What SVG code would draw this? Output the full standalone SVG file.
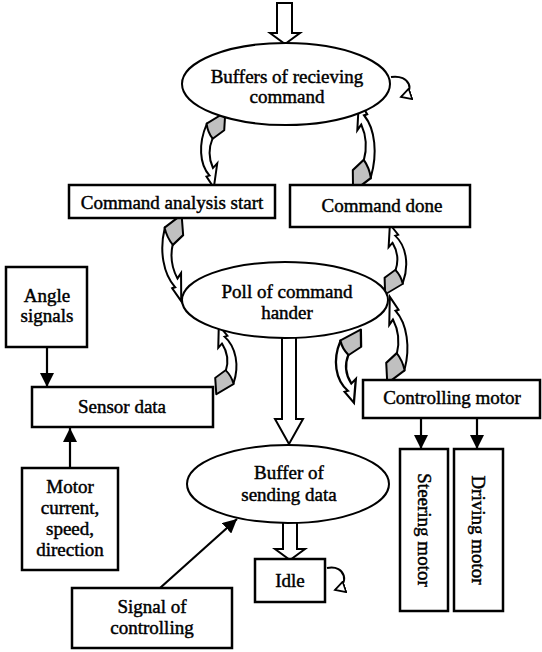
<svg xmlns="http://www.w3.org/2000/svg" width="542" height="652" viewBox="0 0 542 652">
  <style>
    .bg { fill: #ffffff; }
    .box { fill: #ffffff; stroke: #000000; stroke-width: 2.5; }
    .ell { fill: #ffffff; stroke: #000000; stroke-width: 2; }
    .t { font-family: "Liberation Serif", "Times New Roman", serif; font-size: 19px; fill: #000000; stroke: #000000; stroke-width: 0.45; text-anchor: middle; }
    .line { fill: none; stroke: #000000; stroke-width: 2.2; }
    .block { fill: #ffffff; stroke: #000000; stroke-width: 2; stroke-linejoin: miter; }
    .loop { fill: none; stroke: #000000; stroke-width: 2; }
    .rib-gray { fill: #c0c0c0; stroke: #000000; stroke-width: 2; stroke-linejoin: round; }
    .rib-band { fill: #ffffff; stroke: #000000; stroke-width: 2; stroke-linejoin: miter; }
  </style>
  <defs>
    <marker id="solid" markerUnits="userSpaceOnUse" markerWidth="15" markerHeight="14" refX="14" refY="7" orient="auto">
      <path d="M0,0 L14,7 L0,14 Z" fill="#000000"/>
    </marker>
    <marker id="open" markerUnits="userSpaceOnUse" markerWidth="13" markerHeight="13" refX="11" refY="6.5" orient="auto">
      <path d="M1,1 L11,6.5 L1,12 Z" fill="#ffffff" stroke="#000000" stroke-width="1.8"/>
    </marker>
    <g id="ribbon">
      <path class="rib-band" d="M -12,8 C -19,28 -17,50 -6,62 L -9,63 L -1,75 L 1,49 L -3,54 C -8,44 -9,34 -5,22 Z"/>
      <path class="rib-gray" d="M 6,-5 L 6,14 L -5,23 C -9,18 -11,13 -12,7 Z"/>
    </g>
  </defs>
  <rect class="bg" x="0" y="0" width="542" height="652"/>

  <g id="connectors">
    <!-- hollow block arrows -->
    <polygon class="block" points="277,3 292,3 292,33 300,33 285,44 270,33 277,33"/>
    <polygon class="block" points="282,337 296,337 296,419 303,419 289,444 275,419 282,419"/>
    <polygon class="block" points="283,522 297,522 297,549 305,549 290,560 275,549 283,549"/>
    <!-- straight arrows -->
    <line class="line" x1="47" y1="347" x2="47" y2="387" marker-end="url(#solid)"/>
    <line class="line" x1="70" y1="468" x2="70" y2="428" marker-end="url(#solid)"/>
    <line class="line" x1="421" y1="418" x2="421" y2="449" marker-end="url(#solid)"/>
    <line class="line" x1="477" y1="418" x2="477" y2="449" marker-end="url(#solid)"/>
    <line class="line" x1="160" y1="588" x2="237" y2="519" marker-end="url(#solid)"/>
    <!-- self loops -->
    <path class="loop" d="M 391,77 C 410,74 416,92 401,97" marker-end="url(#open)"/>
    <path class="loop" d="M 327,568 C 346,564 350,585 335,590" marker-end="url(#open)"/>
    <!-- curved ribbon arrows -->
    <use href="#ribbon" transform="matrix(1,0,-0.056,0.944,219,117)"/>
    <use href="#ribbon" transform="matrix(-1,0,-0.014,-1.139,359,186)"/>
    <use href="#ribbon" transform="matrix(1,0,0.083,1.083,176,220)"/>
    <use href="#ribbon" transform="matrix(-1,0,-0.056,-0.861,222,390)"/>
    <use href="#ribbon" transform="matrix(-1,0,-0.028,-0.875,391,290)"/>
    <use href="#ribbon" transform="matrix(-1,0,-0.056,-1.083,393,378)"/>
    <use href="#ribbon" transform="matrix(1.15,0,0.014,0.917,354,334)"/>
  </g>

  <g id="buffers-receiving">
    <ellipse class="ell" cx="286" cy="84" rx="104" ry="41"/>
    <text class="t" x="287" y="83">Buffers of recieving</text>
    <text class="t" x="287" y="103">command</text>
  </g>
  <g id="command-analysis-start">
    <rect class="box" x="69" y="185" width="206" height="33"/>
    <text class="t" x="172" y="209">Command analysis start</text>
  </g>
  <g id="command-done">
    <rect class="box" x="290" y="185" width="180" height="42"/>
    <text class="t" x="382" y="212">Command done</text>
  </g>
  <g id="poll-command-hander">
    <ellipse class="ell" cx="285" cy="300" rx="103" ry="38"/>
    <text class="t" x="287" y="298">Poll of command</text>
    <text class="t" x="287" y="319">hander</text>
  </g>
  <g id="angle-signals">
    <rect class="box" x="6" y="267" width="81" height="80"/>
    <text class="t" x="47" y="302">Angle</text>
    <text class="t" x="47" y="322">signals</text>
  </g>
  <g id="sensor-data">
    <rect class="box" x="32" y="387" width="181" height="40"/>
    <text class="t" x="122" y="413">Sensor data</text>
  </g>
  <g id="controlling-motor">
    <rect class="box" x="363" y="380" width="177" height="38"/>
    <text class="t" x="452" y="404">Controlling motor</text>
  </g>
  <g id="steering-motor">
    <rect class="box" x="400" y="449" width="48" height="162"/>
    <text class="t" dominant-baseline="central" transform="translate(424,530) rotate(90)">Steering motor</text>
  </g>
  <g id="driving-motor">
    <rect class="box" x="454" y="449" width="49" height="162"/>
    <text class="t" dominant-baseline="central" transform="translate(478,530) rotate(90)">Driving motor</text>
  </g>
  <g id="motor-current">
    <rect class="box" x="22" y="468" width="96" height="102"/>
    <text class="t" x="70" y="493">Motor</text>
    <text class="t" x="70" y="514">current,</text>
    <text class="t" x="70" y="535">speed,</text>
    <text class="t" x="70" y="556">direction</text>
  </g>
  <g id="buffer-sending">
    <ellipse class="ell" cx="288" cy="484" rx="101" ry="39"/>
    <text class="t" x="289" y="479">Buffer of</text>
    <text class="t" x="289" y="501">sending data</text>
  </g>
  <g id="idle">
    <rect class="box" x="255" y="559" width="70" height="43"/>
    <text class="t" x="290" y="587">Idle</text>
  </g>
  <g id="signal-controlling">
    <rect class="box" x="72" y="588" width="160" height="60"/>
    <text class="t" x="152" y="613">Signal of</text>
    <text class="t" x="152" y="634">controlling</text>
  </g>
</svg>
